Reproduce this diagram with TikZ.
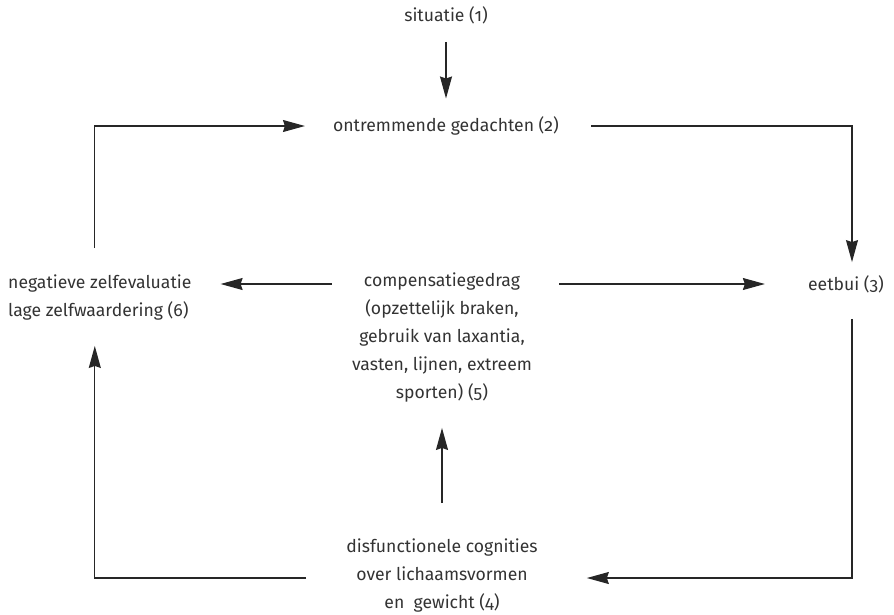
\documentclass[tikz,border=0pt]{standalone}
\usepackage{fontspec}
\setmainfont{Fira Sans}[Numbers=OldStyle]
\usepackage{xcolor}
\usetikzlibrary{arrows.meta,calc}

\begin{document}
\begin{tikzpicture}[x=1pt, y=-1pt,
  font=\fontsize{17.6}{28}\selectfont, text=black!80,
  box/.style={inner sep=0pt, align=center},
  arr/.style={-{Stealth[length=22pt, width=12pt, inset=2pt]}, line width=1.2pt, draw=black!85}]
  \useasboundingbox (0,0) rectangle (894,614);

  % Cycle nodes
  \node[box] (sit) at (446, 15) {situatie (1)};
  \node[box] (ont) at (446, 126) {ontremmende gedachten (2)};
  \node[box] (eet) at (846, 284) {eetbui (3)};
  \node[box] (dis) at (442, 575) {disfunctionele cognities\\ over lichaamsvormen\\ en\ \ gewicht (4)};
  \node[box] (comp) at (442, 338) {compensatiegedrag\\ (opzettelijk braken,\\ gebruik van laxantia,\\ vasten, lijnen, extreem\\ sporten) (5)};
  \node[box, align=left, anchor=west] (neg) at (8, 298) {negatieve zelfevaluatie\\ lage zelfwaardering (6)};

  % Arrows
  \draw[arr, shorten <=18pt, shorten >=18pt] (sit) -- (ont);
  \draw[arr] ([xshift=32pt]ont.east) -| ([xshift=6pt, yshift=13pt]eet.north);
  \draw[arr] ($(comp.east |- eet.west)+(27pt,0)$) -- ([xshift=-43pt]eet.west);
  \draw[arr] ($(comp.west |- eet.west)+(-20pt,0)$) -- ($(neg.east |- eet.west)+(29pt,0)$);
  \draw[arr] ([xshift=6pt, yshift=-26pt]eet.south) |- ([xshift=49pt, yshift=-3pt]dis.east);
  \draw[arr, shorten <=35pt, shorten >=25pt] (dis) -- (comp);
  \draw[arr] ([xshift=-40pt, yshift=-3pt]dis.west) -| ([xshift=-5pt, yshift=-25pt]neg.south);
  \draw[arr] ([xshift=-5pt, yshift=27pt]neg.north) |- ([xshift=-28pt]ont.west);

\end{tikzpicture}
\end{document}
